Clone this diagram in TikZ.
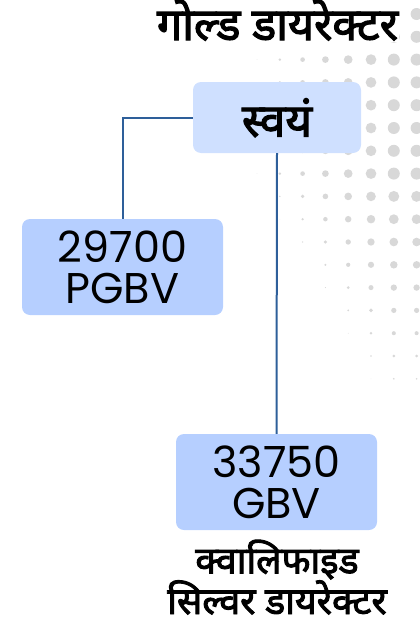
\documentclass[tikz,border=0pt]{standalone}
\usepackage{fontspec}
\newfontfamily\deva[Script=Devanagari, FakeBold=2.5]{Noto Sans}
\newfontfamily\pop{Poppins}
\usepackage{tikz}
\usetikzlibrary{positioning,calc}
\definecolor{toplight}{HTML}{CFE0FF}
\definecolor{boxblue}{HTML}{B6CFFF}
\definecolor{linkblue}{HTML}{2E5F9A}
\definecolor{dotgray}{HTML}{D8D8D8}

\begin{document}
\begin{tikzpicture}[
    x=1pt, y=-1pt,
    box/.style={rounded corners=8pt, minimum width=201pt, minimum height=96pt,
                fill=boxblue, align=center, inner sep=0pt,
                font=\pop\fontsize{43}{41}\selectfont},
    selfbox/.style={rounded corners=8pt, minimum width=168pt, minimum height=71pt,
                fill=toplight, inner sep=0pt, text height=38pt, text depth=0pt,
                font=\deva\fontsize{46}{46}\selectfont},
    link/.style={draw=linkblue, line width=2pt}
]

\useasboundingbox (0,0) rectangle (420,624);

%======================
% Dot pattern
%======================

\foreach \i in {0,...,7}{
  \foreach \j in {0,...,16}{
    \pgfmathsetmacro\dotr{(min(12,0.7+2*\i)-max(0,0.05*(14+22.8*\j-175)))/2}
    \ifdim\dotr pt>0.2pt
      \fill[dotgray] (257+22.8*\i, 14+22.8*\j) circle[radius=\dotr pt];
    \fi
  }
}

%======================
% Coordinates
%======================

\coordinate (T)  at (277.5, 40);
\coordinate (S)  at (277, 117.5);
\coordinate (P)  at (122.5, 267);
\coordinate (G)  at (276.5, 482);
\coordinate (Q)  at (277, 614);

%======================
% Nodes
%======================

\node[fill=white, inner sep=1pt, anchor=base, font=\deva\fontsize{45}{45}\selectfont]
  (title) at (T) {गोल्ड डायरेक्टर};

\node[selfbox] (self) at (S) {स्वयं};
\node[box] (pgbv) at (P) {29700\\PGBV};
\node[box] (gbv)  at (G) {33750\\GBV};

\node[align=center, inner sep=0pt, anchor=base, text depth=4pt,
      font=\deva\fontsize{37.5}{38}\selectfont]
  (rank) at (Q) {क्वालिफाइड\\सिल्वर डायरेक्टर};

%======================
% Links
%======================

\draw[link] (self.west) -| (pgbv.north);
\draw[link] (self.south) -- (gbv.north);

\end{tikzpicture}
\end{document}
